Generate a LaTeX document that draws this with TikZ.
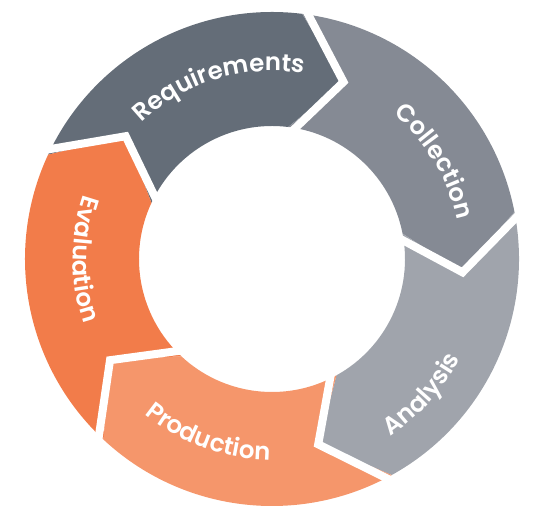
\documentclass[tikz,border=0pt]{standalone}
\usepackage{fontspec}
\setmainfont{Poppins}[BoldFont={Poppins SemiBold}]
\usetikzlibrary{decorations.text}
\definecolor{reqgray}{HTML}{646D78}
\definecolor{colgray}{HTML}{858A94}
\definecolor{anagray}{HTML}{A0A4AC}
\definecolor{prodorange}{HTML}{F5966B}
\definecolor{evalorange}{HTML}{F27C4A}
\tikzset{
  gap/.style={white, line width=8, line join=miter},
  steptext/.style={decorate, decoration={text along path, text align=center,
      text color=white, text={|\bfseries\fontsize{24.5}{24.5}\selectfont\addfontfeature{LetterSpace=3}|#1}}}
}

\begin{document}
\begin{tikzpicture}[x=1pt, y=1pt]
    \useasboundingbox (-272,-257) rectangle (274,259);
    % ring of arrows, clockwise
    \foreach \a/\c in {155/reqgray, 83/colgray, 11/anagray, -61/prodorange, -133/evalorange} {
      \pgfmathsetmacro\b{\a-72}
      \fill[\c] (\a:247) arc[start angle=\a, end angle=\b, radius=247]
        -- (\b-15:191) -- (\b:133) arc[start angle=\b, end angle=\a, radius=133]
        -- (\a-15:191) -- cycle;
    }
    % white gaps
    \foreach \a in {155, 83, 11, -61, -133}
      \draw[gap] (\a:256) -- (\a-15:191) -- (\a:124);
    % labels
    \path[steptext=Requirements] (147:188) arc[start angle=147, end angle=67, radius=188];
    \path[steptext=Collection] (71:189) arc[start angle=71, end angle=-9, radius=189];
    \path[steptext=Analysis] (-82:213) arc[start angle=-82, end angle=-2, radius=213];
    \path[steptext=Production] (-150:201) arc[start angle=-150, end angle=-70, radius=201];
    \path[steptext=Evaluation] (140:199) arc[start angle=140, end angle=220, radius=199];
\end{tikzpicture}
\end{document}
